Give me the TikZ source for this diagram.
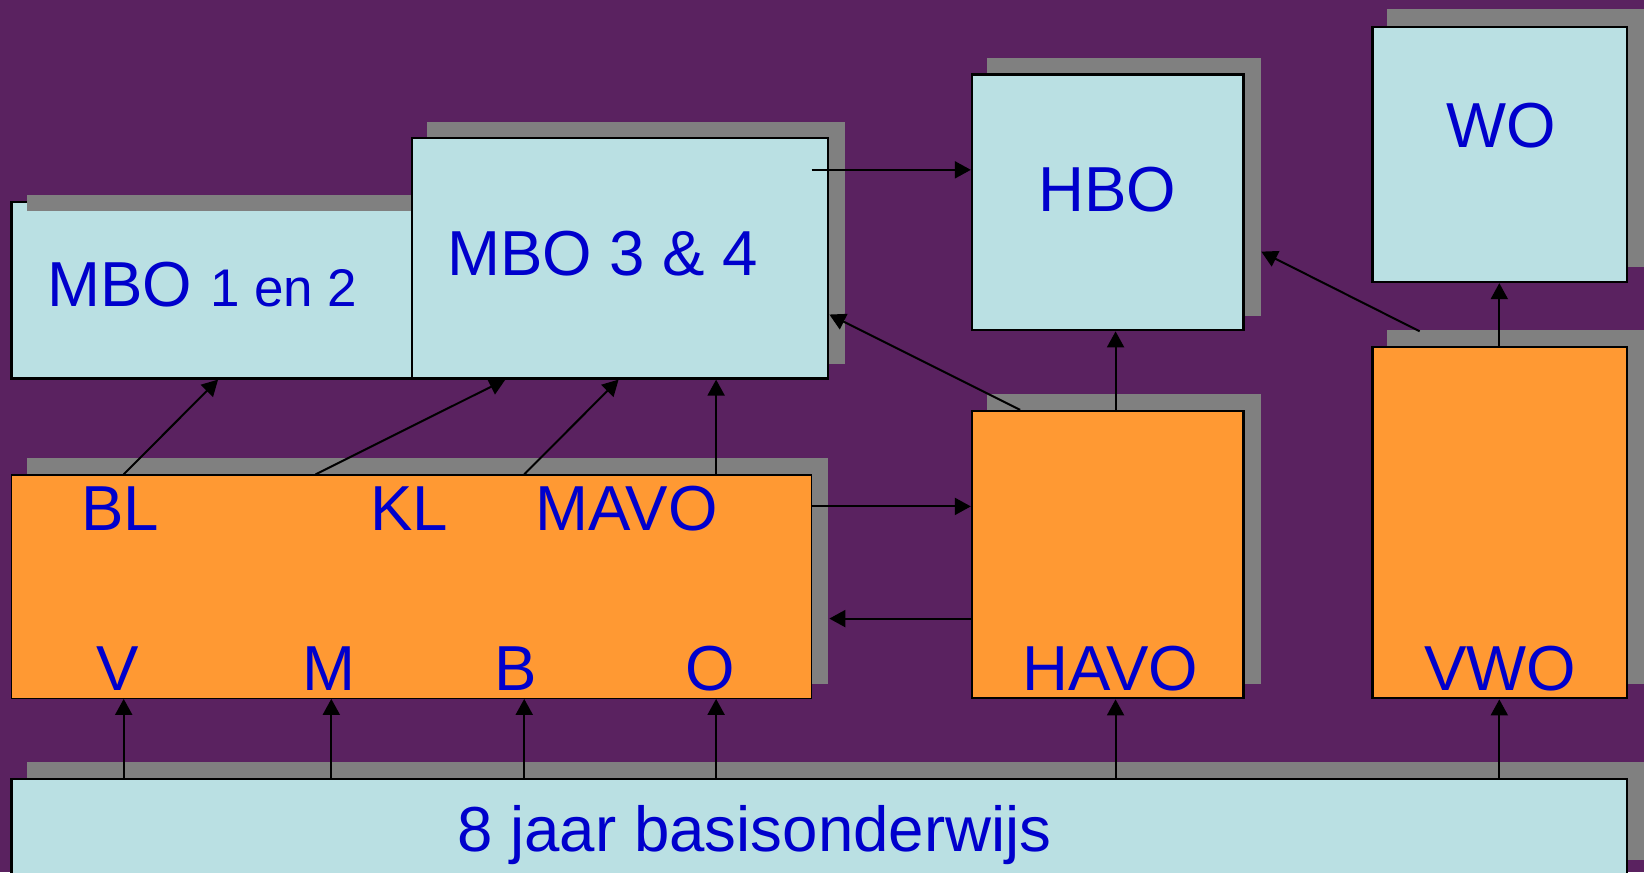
\documentclass[tikz,border=0pt]{standalone}
\usepackage{fontspec}
\setmainfont{Liberation Sans}
\usetikzlibrary{arrows.meta,fit}
\definecolor{bgpurple}{RGB}{90,34,96}
\definecolor{boxblue}{RGB}{186,224,227}
\definecolor{boxorange}{RGB}{255,153,51}
\definecolor{shadowgray}{RGB}{128,128,128}
\definecolor{txtblue}{RGB}{0,0,204}
\begin{document}
\begin{tikzpicture}[x=0.52424pt, y=-0.52424pt,
  bluebox/.style={draw=black, line width=1.1pt, fill=boxblue, inner sep=0pt},
  orangebox/.style={draw=black, line width=1.1pt, fill=boxorange, inner sep=0pt},
  shadowbox/.style={fill=shadowgray},
  lbl/.style={text=txtblue, font=\fontsize{31.8}{38}\selectfont, inner sep=0pt, anchor=base west},
  arr/.style={-{Triangle[length=8pt,width=8.5pt]}, line width=1pt, draw=black}]
\useasboundingbox (0,0) rectangle (1568,832);
\fill[bgpurple] (0,0) rectangle (1568,832);
% shadows
\fill[shadowbox] (407,116) rectangle (806,347);
\fill[shadowbox] (941,55) rectangle (1203,301);
\fill[shadowbox] (1323,9) rectangle (1575,255);
\fill[shadowbox] (26,437) rectangle (790,652);
\fill[shadowbox] (941,376) rectangle (1203,652);
\fill[shadowbox] (1323,315) rectangle (1575,652);
\fill[shadowbox] (26,727) rectangle (1575,820);
% boxes
\node[bluebox, fit={(11,193) (393,361)}] (mbo12) {};
\fill[shadowbox] (26,186) rectangle (392,201);
\node[bluebox, fit={(393,132) (790,361)}] (mbo34) {};
\node[bluebox, fit={(927,71) (1186,315)}] (hbo) {};
\node[bluebox, fit={(1309,26) (1552,269)}] (wo) {};
\node[orangebox, line width=0.6pt, fit={(11,453) (774,666)}] (vmbo) {};
\node[orangebox, fit={(927,392) (1186,666)}] (havo) {};
\node[orangebox, fit={(1309,331) (1552,666)}] (vwo) {};
\node[bluebox, fit={(11,743) (1552,850)}] (basis) {};
% labels
\node[lbl] (tmbo12) at (45,292) {MBO {\fontsize{26.5}{31}\selectfont 1 en 2}};
\node[lbl] (tmbo34) at (426,263) {MBO 3 \& 4};
\node[lbl] (thbo) at (990,202) {HBO};
\node[lbl] (two) at (1379,141) {WO};
\node[lbl] (tbl) at (77,506) {BL};
\node[lbl] (tkl) at (352.6,506) {KL};
\node[lbl] (tmavo) at (510,506) {MAVO};
\node[lbl] (tv) at (92,659) {V};
\node[lbl] (tm) at (288.5,659) {M};
\node[lbl] (tb) at (471,659) {B};
\node[lbl] (to) at (653.6,659) {O};
\node[lbl] (thavo) at (975,659) {HAVO};
\node[lbl] (tvwo) at (1358,659) {VWO};
\node[lbl] (tbasis) at (436,812) {8 jaar basisonderwijs};
% columns and rows for connectors
\coordinate (x118) at (118,0);
\coordinate (x208) at (208,0);
\coordinate (x301) at (301,0);
\coordinate (x316) at (316,0);
\coordinate (x482) at (482,0);
\coordinate (x500) at (500,0);
\coordinate (x590) at (590,0);
\coordinate (x683) at (683,0);
\coordinate (x774) at (774,0);
\coordinate (x791) at (791,0);
\coordinate (x973) at (973,0);
\coordinate (x1064) at (1064,0);
\coordinate (x1203) at (1203,0);
\coordinate (x1354) at (1354,0);
\coordinate (x1430) at (1430,0);
\coordinate (y162) at (0,162);
\coordinate (y240) at (0,240);
\coordinate (y300) at (0,300);
\coordinate (y316) at (0,316);
\coordinate (y483) at (0,483);
\coordinate (y590) at (0,590);
% connectors
\draw[arr] (vmbo.north -| x118) -- (mbo12.south -| x208);
\draw[arr] (vmbo.north -| x301) -- (mbo34.south -| x482);
\draw[arr] (vmbo.north -| x500) -- (mbo34.south -| x590);
\draw[arr] (vmbo.north -| x683) -- (mbo34.south -| x683);
\draw[arr] (vmbo.east |- y483) -- (havo.west |- y483);
\draw[arr] (havo.west |- y590) -- (x791 |- y590);
\draw[arr] (x774 |- y162) -- (hbo.west |- y162);
\draw[arr] (havo.north -| x973) -- (mbo34.east |- y300);
\draw[arr] (havo.north -| x1064) -- (hbo.south -| x1064);
\draw[arr] (vwo.north -| x1430) -- (wo.south -| x1430);
\draw[arr] (x1354 |- y316) -- (x1203 |- y240);
\draw[arr] (basis.north -| x118) -- (vmbo.south -| x118);
\draw[arr] (basis.north -| x316) -- (vmbo.south -| x316);
\draw[arr] (basis.north -| x500) -- (vmbo.south -| x500);
\draw[arr] (basis.north -| x683) -- (vmbo.south -| x683);
\draw[arr] (basis.north -| x1064) -- (havo.south -| x1064);
\draw[arr] (basis.north -| x1430) -- (vwo.south -| x1430);
\end{tikzpicture}
\end{document}
